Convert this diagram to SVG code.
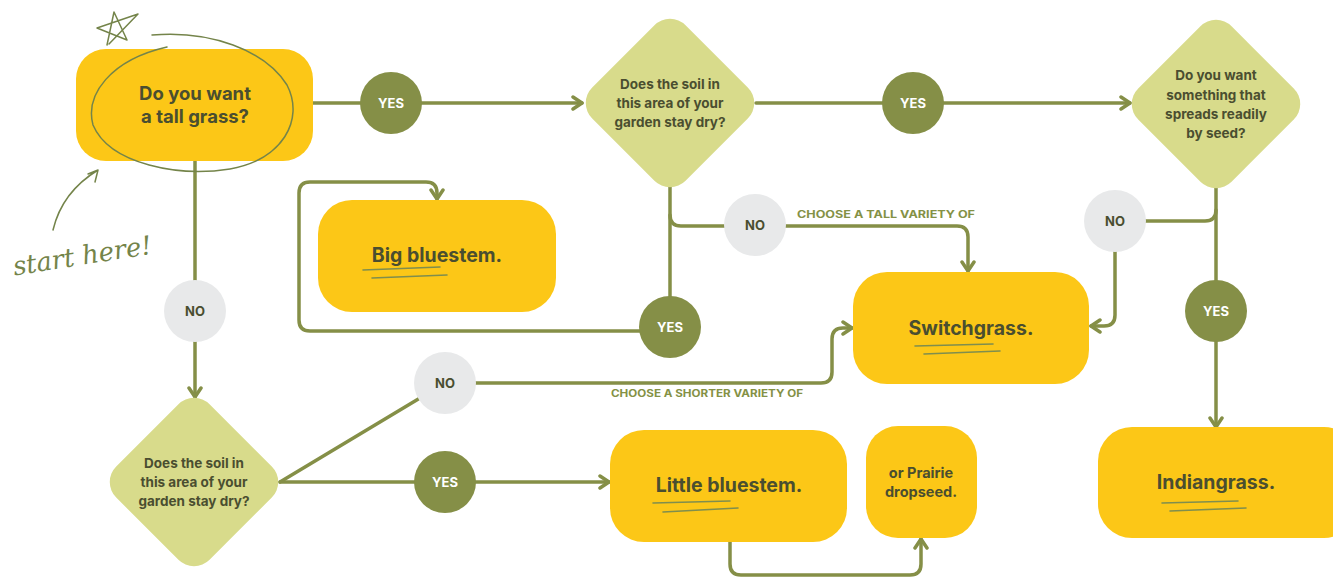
<svg xmlns="http://www.w3.org/2000/svg" width="1333" height="577" viewBox="0 0 1333 577">
<defs>
<marker id="arr" viewBox="0 0 16 16" refX="13" refY="8" markerWidth="16" markerHeight="16" markerUnits="userSpaceOnUse" orient="auto">
<path d="M4,2 L13,8 L4,14" fill="none" stroke="#858f47" stroke-width="3.5" stroke-linecap="round" stroke-linejoin="round"/>
</marker>
<style>
.box{fill:#fcc717;}
.dia{fill:#d8db8b;}
.con{fill:none;stroke:#858f47;stroke-width:3.5;stroke-linecap:round;stroke-linejoin:round;}
.yes{fill:#858f47;}
.no{fill:#e8e9ea;}
.t{font-family:Inter,"Liberation Sans",sans-serif;font-weight:bold;fill:#4a4e30;text-anchor:middle;}
.big{font-size:19.5px;}
.q{font-size:13.5px;}
.yt{font-family:Inter,"Liberation Sans",sans-serif;font-weight:bold;font-size:13px;fill:#ffffff;text-anchor:middle;}
.nt{font-family:Inter,"Liberation Sans",sans-serif;font-weight:bold;font-size:13px;fill:#4a4e30;text-anchor:middle;}
.lab{font-family:Inter,"Liberation Sans",sans-serif;font-weight:bold;font-size:10px;fill:#849145;}
.ul{fill:none;stroke:#7f8e4e;stroke-width:1.6;stroke-linecap:round;}
.hand{fill:none;stroke:#74844a;stroke-width:1.5;stroke-linecap:round;stroke-linejoin:round;}
</style>
</defs>
<rect width="1333" height="577" fill="#ffffff"/>

<g id="connectors">
<path class="con" d="M313,103 H582" marker-end="url(#arr)"/>
<path class="con" d="M756,103 H1130" marker-end="url(#arr)"/>
<path class="con" d="M1216,188 V427" marker-end="url(#arr)"/>
<path class="con" d="M1216,210 Q1216,221 1205,221 H1115"/>
<path class="con" d="M1115,221 V315 Q1115,326 1104,326 H1091" marker-end="url(#arr)"/>
<path class="con" d="M670,186 V327"/>
<path class="con" d="M670,215 Q670,226 681,226 H957 Q968,226 968,237 V271" marker-end="url(#arr)"/>
<path class="con" d="M650,331 H310 Q299,331 299,320 V193 Q299,182 310,182 H426 Q437,182 437,193 V199" marker-end="url(#arr)"/>
<path class="con" d="M195,161 V397" marker-end="url(#arr)"/>
<path class="con" d="M280,482 H609" marker-end="url(#arr)"/>
<path class="con" d="M280,482 L420,398"/>
<path class="con" d="M445,383 H821 Q832,383 832,372 V339 Q832,328 843,328 H852" marker-end="url(#arr)"/>
<path class="con" d="M730,542 V564 Q730,575 741,575 H910 Q921,575 921,564 V539" marker-end="url(#arr)"/>
</g>

<g id="labels">
<text class="lab" x="797" y="218" textLength="178" lengthAdjust="spacingAndGlyphs">CHOOSE A TALL VARIETY OF</text>
<text class="lab" x="611" y="397" textLength="192" lengthAdjust="spacingAndGlyphs">CHOOSE A SHORTER VARIETY OF</text>
</g>

<g id="start">
<rect class="box" x="76" y="49" width="237" height="112" rx="30"/>
<text class="t" x="195" y="100" font-size="18.5">Do you want</text>
<text class="t" x="195" y="123" font-size="18.5">a tall grass?</text>
<path class="hand" d="M152,35 C210,30 265,50 287,85 C305,120 282,160 230,169 C180,177 110,165 93,125 C85,95 110,60 167,47"/>
</g>

<g id="star-note">
<path class="hand" d="M107,45 L114,12 L127,40 L97,28 L138,14 L109,44"/>
<path class="hand" d="M53,230 Q62,192 98,170 M88,174 L98,170 L95,182"/>
<text x="12" y="265" transform="rotate(-9 80 255)" font-family="'DejaVu Serif',serif" font-style="italic" font-size="26" fill="#74844a" textLength="140" lengthAdjust="spacingAndGlyphs">start here!</text>
</g>

<g id="yes1"><circle class="yes" cx="391" cy="103" r="31"/><text class="yt" x="391" y="108">YES</text></g>

<g id="q-dry-1">
<rect class="dia" x="604" y="37" width="132" height="132" rx="22" transform="rotate(45 670 103)"/>
<text class="t q" x="670" y="89">Does the soil in</text>
<text class="t q" x="670" y="108">this area of your</text>
<text class="t q" x="670" y="127">garden stay dry?</text>
</g>

<g id="yes2"><circle class="yes" cx="913" cy="103" r="31"/><text class="yt" x="913" y="108">YES</text></g>

<g id="q-seed">
<rect class="dia" x="1150" y="38" width="132" height="132" rx="22" transform="rotate(45 1216 104)"/>
<text class="t q" x="1216" y="80">Do you want</text>
<text class="t q" x="1216" y="100">something that</text>
<text class="t q" x="1216" y="119">spreads readily</text>
<text class="t q" x="1216" y="138">by seed?</text>
</g>

<g id="no-seed"><circle class="no" cx="1115" cy="221" r="31"/><text class="nt" x="1115" y="226">NO</text></g>
<g id="yes-seed"><circle class="yes" cx="1216" cy="311" r="31"/><text class="yt" x="1216" y="316">YES</text></g>

<g id="no-dry1"><circle class="no" cx="755" cy="225" r="31"/><text class="nt" x="755" y="230">NO</text></g>
<g id="yes-dry1"><circle class="yes" cx="670" cy="327" r="31"/><text class="yt" x="670" y="332">YES</text></g>

<g id="big-bluestem">
<rect class="box" x="318" y="200" width="238" height="112" rx="34"/>
<text class="t big" x="437" y="262">Big bluestem.</text>
<path class="ul" d="M363,270 L440,267 M372,278 L447,275"/>
</g>

<g id="switchgrass">
<rect class="box" x="853" y="272" width="236" height="112" rx="34"/>
<text class="t big" x="971" y="335">Switchgrass.</text>
<path class="ul" d="M915,346 L993,344 M924,354 L1000,351"/>
</g>

<g id="indiangrass">
<rect class="box" x="1098" y="427" width="260" height="111" rx="34"/>
<text class="t big" x="1216" y="489">Indiangrass.</text>
<path class="ul" d="M1162,503 L1238,501 M1170,511 L1246,508"/>
</g>

<g id="no-tall"><circle class="no" cx="195" cy="311" r="31"/><text class="nt" x="195" y="316">NO</text></g>

<g id="q-dry-2">
<rect class="dia" x="128" y="416" width="132" height="132" rx="22" transform="rotate(45 194 482)"/>
<text class="t q" x="194" y="468">Does the soil in</text>
<text class="t q" x="194" y="487">this area of your</text>
<text class="t q" x="194" y="506">garden stay dry?</text>
</g>

<g id="no-dry2"><circle class="no" cx="445" cy="383" r="31"/><text class="nt" x="445" y="388">NO</text></g>
<g id="yes-dry2"><circle class="yes" cx="445" cy="482" r="31"/><text class="yt" x="445" y="487">YES</text></g>

<g id="little-bluestem">
<rect class="box" x="610" y="430" width="237" height="112" rx="34"/>
<text class="t big" x="729" y="492">Little bluestem.</text>
<path class="ul" d="M653,503 L730,501 M663,512 L738,508"/>
</g>

<g id="prairie-dropseed">
<rect class="box" x="866" y="426" width="111" height="112" rx="32"/>
<text class="t" x="921" y="478" font-size="14.5">or Prairie</text>
<text class="t" x="921" y="497" font-size="14.5">dropseed.</text>
</g>
</svg>
